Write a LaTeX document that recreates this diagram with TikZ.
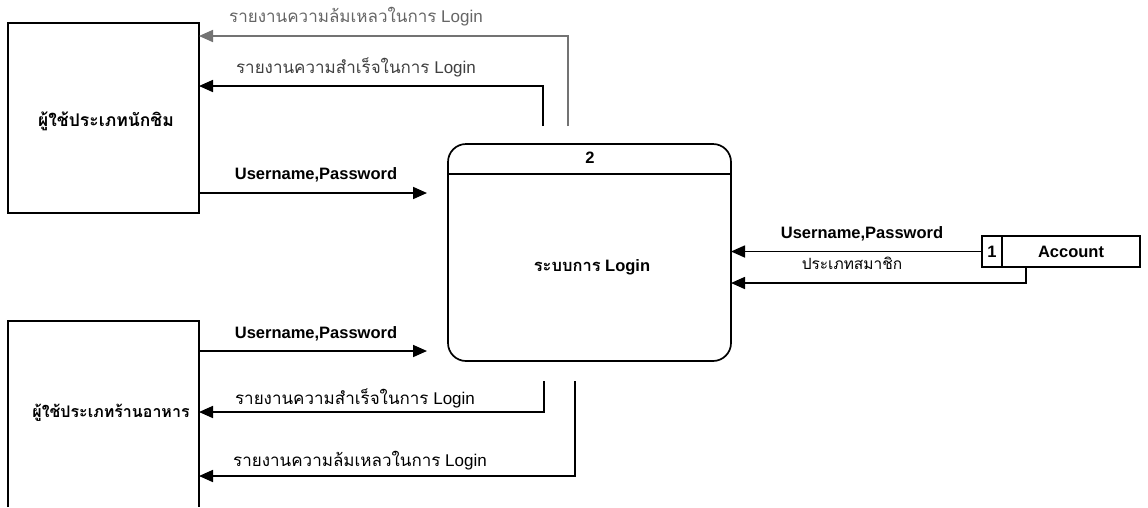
\documentclass[tikz,border=0pt]{standalone}
\usepackage{fontspec}
\setmainfont{Liberation Sans}
\newfontfamily\thaifont[Script=Thai]{Loma}
\usetikzlibrary{arrows.meta}
\newcommand\thtxt[1]{{\thaifont #1}}

\begin{document}
\begin{tikzpicture}[x=1pt,y=-1pt,
  line width=1.7pt,
  every node/.style={inner sep=0pt, outer sep=0pt},
  flow/.style={-{Triangle[length=14pt,width=12pt]}},
  lbl/.style={font=\fontsize{17}{20}\selectfont},
  ulbl/.style={font=\bfseries\fontsize{16.5}{20}\selectfont},
  entname/.style={font=\thaifont\bfseries\fontsize{17.5}{20}\selectfont},
  fadeline/.style={draw=black!55},
  fadetext/.style={text=black!60}
  ]
\useasboundingbox[fill=white] (0,0) rectangle (1148,507);

% external entities
\node[draw, minimum width=191pt, minimum height=190pt] (taster) at (103.5,118) {};
\node[entname] (tastername) at (106,121) {ผู้ใช้ประเภทนักชิม};
\node[minimum width=191pt, minimum height=186pt] (rest) at (103.5,414) {};
\node[entname, font=\thaifont\bfseries\fontsize{16}{20}\selectfont] (restname) at (111,413) {ผู้ใช้ประเภทร้านอาหาร};
\draw (rest.south west) |- (rest.north east) -- (rest.south east);

% process 2
\node[draw, rounded corners=18pt, minimum width=283pt, minimum height=217pt] (proc) at (589.5,252.5) {};
\coordinate (divy) at (0,174);
\draw (proc.west |- divy) -- (proc.east |- divy);
\node[ulbl] (pid) at (590,158) {2};
\node[font=\bfseries\fontsize{16.5}{20}\selectfont] (pname) at (592,267) {\thtxt{ระบบการ} Login};

% data store 1
\node[draw, minimum width=158pt, minimum height=31pt] (store) at (1061,251.5) {};
\draw ([xshift=20pt]store.north west) -- ([xshift=20pt]store.south west);
\node[ulbl] (sid) at (992,251.5) {1};
\node[ulbl] (sname) at (1071,251.5) {Account};

% flows between the taster and the process
\coordinate (tf) at (568,126);
\coordinate (tfc) at (568,36);
\draw[flow, fadeline] (tf) -- (tfc) -- (taster.east |- tfc);
\coordinate (ts) at (543,126);
\coordinate (tsc) at (543,86);
\draw[flow] (ts) -- (tsc) -- (taster.east |- tsc);
\coordinate (tu) at (427,193);
\draw[flow] (taster.east |- tu) -- (tu);

\node[lbl, fadetext] (ltf) at (356,17) {\thtxt{รายงานความล้มเหลวในการ} Login};
\node[lbl, text=black!75] (lts) at (356,67) {\thtxt{รายงานความสำเร็จในการ} Login};
\node[ulbl] (ltu) at (316,175) {Username,Password};

% flows between the restaurant and the process
\coordinate (ru) at (427,351);
\draw[flow] (rest.east |- ru) -- (ru);
\coordinate (rs) at (544,381);
\coordinate (rsc) at (544,412);
\draw[flow] (rs) -- (rsc) -- (rest.east |- rsc);
\coordinate (rf) at (575,381);
\coordinate (rfc) at (575,476);
\draw[flow] (rf) -- (rfc) -- (rest.east |- rfc);

\node[ulbl] (lru) at (316,334) {Username,Password};
\node[lbl] (lrs) at (355,398) {\thtxt{รายงานความสำเร็จในการ} Login};
\node[lbl] (lrf) at (360,461) {\thtxt{รายงานความล้มเหลวในการ} Login};

% flows from the data store
\draw[flow] (store.west) -- (proc.east |- store.west);
\coordinate (sx) at (1026,0);
\coordinate (sc) at (1026,283);
\draw[flow] (store.south -| sx) -- (sc) -- (proc.east |- sc);

\node[ulbl] (lsu) at (862,234) {Username,Password};
\node[font=\fontsize{15.5}{18}\selectfont] (lst) at (852,263) {\thtxt{ประเภทสมาชิก}};
\end{tikzpicture}
\end{document}
